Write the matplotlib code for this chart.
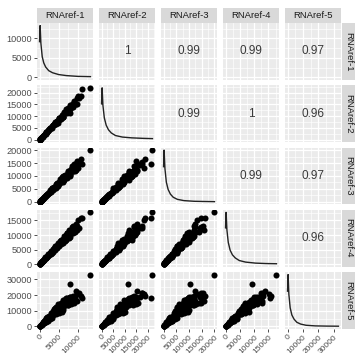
import numpy as np
import matplotlib
matplotlib.use("Agg")
import matplotlib.pyplot as plt

plt.rcParams['font.family'] = ['Liberation Sans', 'DejaVu Sans']

names = ['RNAref-1', 'RNAref-2', 'RNAref-3', 'RNAref-4', 'RNAref-5']

# gene expression values (one entry per gene), read/estimated from the scatter panels
v1 = [0, 80, 160, 250, 350, 450, 560, 680, 800, 950, 1100, 1250, 1400, 1600, 1800, 2000,
      2200, 2400, 2600, 2850, 3100, 3350, 3600, 3850, 4100, 4350, 4600, 4850, 5100, 5350,
      5600, 5850, 6100, 6350, 6600, 6850, 7100, 7350, 7600, 7900, 8200, 8500, 8800, 9100,
      9500, 9900, 10400, 10900, 13300, 7900, 11000,
      40, 200, 400, 620, 870, 1180, 1500, 1700, 1950, 2300, 2700, 3000, 3250, 3500, 3750,
      4000, 4250, 4500, 4750, 5000, 5250, 5500, 5750, 6000, 6250, 6500, 6750, 7000, 7250,
      7500, 7750, 8050, 8350, 8650, 8950, 9300, 9700, 10100]
v2 = [0, 130, 280, 420, 630, 730, 950, 1190, 1280, 1700, 1850, 2150, 2480, 2580, 3120, 3330,
      3960, 3920, 4420, 4990, 4950, 5980, 6060, 6610, 7250, 7030, 7980, 8080, 9190, 8730,
      9520, 10240, 9750, 11340, 11110, 11760, 12550, 11870, 13180, 13160, 14780, 13870, 14960, 15930,
      15180, 17670, 17500, 18720, 22000, 11400, 21400,
      60, 370, 660, 1160, 1380, 2110, 2300, 3090, 3320, 3680, 5000, 4900, 5030, 6430, 6180,
      7480, 6720, 8030, 7270, 9100, 8930, 8790, 10660, 9790, 9670, 11930, 11130, 13090, 11460,
      13390, 11860, 14640, 14200, 13820, 16580, 15180, 15010, 18540]
v3 = [0, 130, 240, 320, 540, 650, 770, 1100, 1040, 1490, 1560, 1890, 1870, 2550, 2690, 2550,
      3380, 3480, 3580, 4630, 4050, 5250, 5120, 5810, 5470, 6940, 6870, 6190, 7840, 7760,
      7710, 9500, 7960, 9940, 9380, 10330, 9470, 11720, 11350, 10080, 12600, 12330, 12120, 14780,
      12400, 15500, 14780, 16440, 20000, 10200, 14700,
      70, 260, 630, 900, 1100, 1880, 2280, 2290, 3220, 3200, 4270, 3830, 5280, 4570, 5870,
      5800, 5360, 7180, 7230, 6740, 8680, 7660, 9090, 7660, 10150, 8480, 10570, 10150, 9150,
      11960, 11800, 10860, 13800, 12040, 14150, 11870, 15750, 13180]
v4 = [0, 100, 190, 350, 470, 680, 690, 950, 1160, 1240, 1310, 1820, 2080, 2030, 2160, 2840,
      2970, 3630, 3190, 3960, 4480, 4390, 4280, 5610, 6090, 5520, 5530, 6880, 6890, 8090,
      6880, 8130, 8810, 8320, 7840, 9990, 10540, 9330, 9130, 11200, 11070, 12850, 10810, 12650,
      13720, 12960, 12360, 15890, 17800, 9300, 15700,
      50, 300, 570, 730, 1280, 1510, 2290, 2110, 2580, 3450, 3790, 3560, 3950, 5290, 5370,
      4700, 6250, 5770, 7250, 6210, 6950, 8240, 8070, 7130, 7590, 9830, 9660, 8220, 10670,
      9620, 11820, 10000, 11050, 12960, 12570, 11050, 11790, 15270]
v5 = [0, 150, 390, 750, 600, 970, 1470, 1100, 2170, 2190, 2230, 3620, 3930, 3020, 4390, 5980,
      3740, 5190, 6820, 4590, 8410, 7710, 7290, 11160, 11510, 8200, 11220, 14500, 8680, 11570,
      14680, 9420, 16560, 14610, 13360, 17850, 17920, 13860, 16530, 19000, 13960, 16380, 18500, 14650,
      22600, 21300, 21050, 19500, 33000, 26800, 18400,
      70, 570, 810, 1570, 2560, 2170, 3380, 5160, 3410, 6140, 6710, 5800, 5380, 9980, 7590,
      10120, 12510, 8280, 10710, 13180, 9180, 12670, 12280, 11590, 10350, 16540, 13660, 15710, 17500,
      13800, 16470, 19000, 14600, 19500, 18500, 17970, 16060, 20500]
values = [v1, v2, v3, v4, v5]

# diagonal density curves (x in data units, height relative to the peak)
dens1_x = [0, 150, 350, 700, 1100, 1600, 2400, 3400, 5000, 7000, 10000, 13300]
dens1_y = [0.69, 1.0, 0.66, 0.40, 0.28, 0.20, 0.13, 0.09, 0.055, 0.035, 0.02, 0.015]
dens2_x = [0, 250, 600, 1200, 2000, 3000, 4200, 6000, 9000, 13000, 18000, 22000]
dens2_y = [0.69, 1.0, 0.66, 0.42, 0.28, 0.19, 0.13, 0.08, 0.05, 0.035, 0.025, 0.02]
dens3_x = [0, 220, 550, 1100, 1800, 2700, 3800, 5400, 8000, 12000, 16000, 20000]
dens3_y = [0.68, 1.0, 0.64, 0.38, 0.24, 0.15, 0.09, 0.05, 0.025, 0.012, 0.008, 0.005]
dens4_x = [0, 200, 480, 950, 1600, 2400, 3400, 4800, 7000, 10500, 14000, 17800]
dens4_y = [0.70, 1.0, 0.66, 0.42, 0.27, 0.18, 0.12, 0.07, 0.04, 0.02, 0.012, 0.008]
dens5_x = [0, 350, 850, 1700, 2800, 4200, 6000, 8500, 12000, 18000, 25000, 33000]
dens5_y = [0.68, 1.0, 0.62, 0.36, 0.22, 0.14, 0.08, 0.045, 0.022, 0.01, 0.006, 0.004]
dens_x = [dens1_x, dens2_x, dens3_x, dens4_x, dens5_x]
dens_y = [dens1_y, dens2_y, dens3_y, dens4_y, dens5_y]

# correlation labels for upper panels
corr_text = {(0, 1): '1', (0, 2): '0.99', (0, 3): '0.99', (0, 4): '0.97',
             (1, 2): '0.99', (1, 3): '1', (1, 4): '0.96',
             (2, 3): '0.99', (2, 4): '0.97',
             (3, 4): '0.96'}

ticks = [[0, 5000, 10000],
         [0, 5000, 10000, 15000, 20000],
         [0, 5000, 10000, 15000, 20000],
         [0, 5000, 10000, 15000],
         [0, 10000, 20000, 30000]]
tick_labels = [[str(t) for t in tk] for tk in ticks]

W, H = 355, 353
fig = plt.figure(figsize=(W / 100, H / 100), dpi=100)
fig.patch.set_facecolor('white')

lefts = [37, 99, 161, 223, 285]
tops = [23, 85.25, 147.5, 209.75, 272]
pw, ph = 56, 57

def lims(v):
    lo, hi = min(v), max(v)
    w = hi - lo
    return lo - 0.05 * w, hi + 0.05 * w

def minor(tk, lo, hi):
    step = tk[1] - tk[0]
    cand = [tk[0] - step / 2] + [t + step / 2 for t in tk]
    return [m for m in cand if lo <= m <= hi]

for r in range(5):
    for c in range(5):
        ax = fig.add_axes([lefts[c] / W, 1 - (tops[r] + ph) / H, pw / W, ph / H])
        ax.set_facecolor('#EBEBEB')
        xlo, xhi = lims(values[c])
        ylo, yhi = lims(values[r])
        ax.set_xlim(xlo, xhi)
        ax.set_ylim(ylo, yhi)
        ax.set_xticks(ticks[c])
        ax.set_yticks(ticks[r])
        ax.set_xticks(minor(ticks[c], xlo, xhi), minor=True)
        ax.set_yticks(minor(ticks[r], ylo, yhi), minor=True)
        ax.grid(True, which='major', color='white', lw=0.9)
        ax.grid(True, which='minor', color='white', lw=0.45)
        ax.set_axisbelow(True)
        for s in ax.spines.values():
            s.set_visible(False)
        ax.tick_params(which='minor', length=0)
        ax.tick_params(which='major', length=2.5, width=0.6, color='#333333',
                       labelsize=6.6, labelcolor='#4D4D4D', pad=1.2)
        ax.tick_params(axis='x', labelsize=6.0, pad=0.6)
        if r == c:
            ymax = max(values[r])
            ax.plot(dens_x[c], [d * ymax for d in dens_y[c]], color='#222222', lw=1.0)
        elif r > c:
            ax.scatter(values[c], values[r], s=19, color='black', linewidths=0)
        else:
            ax.text(0.5, 0.5, corr_text[(r, c)], transform=ax.transAxes,
                    ha='center', va='center', fontsize=8.5, color='#3A3A3A')
        if c == 0:
            ax.set_yticklabels(tick_labels[r])
        else:
            ax.tick_params(axis='y', left=False, labelleft=False)
        if r == 4:
            ax.set_xticklabels(tick_labels[c], rotation=45, ha='right',
                               rotation_mode='anchor')
        else:
            ax.tick_params(axis='x', bottom=False, labelbottom=False)

# top strips
for c in range(5):
    sa = fig.add_axes([lefts[c] / W, 1 - 23 / H, pw / W, 15 / H])
    sa.set_facecolor('#D9D9D9')
    sa.set_xticks([]); sa.set_yticks([])
    for s in sa.spines.values():
        s.set_visible(False)
    sa.text(0.5, 0.5, names[c], ha='center', va='center', fontsize=6.8,
            color='#1A1A1A', transform=sa.transAxes)

# right strips
for r in range(5):
    sa = fig.add_axes([342 / W, 1 - (tops[r] + ph) / H, 13 / W, ph / H])
    sa.set_facecolor('#D9D9D9')
    sa.set_xticks([]); sa.set_yticks([])
    for s in sa.spines.values():
        s.set_visible(False)
    sa.text(0.55, 0.5, names[r], ha='center', va='center', fontsize=6.8,
            rotation=-90, color='#1A1A1A', transform=sa.transAxes)

fig.savefig('out.png', dpi=100)
